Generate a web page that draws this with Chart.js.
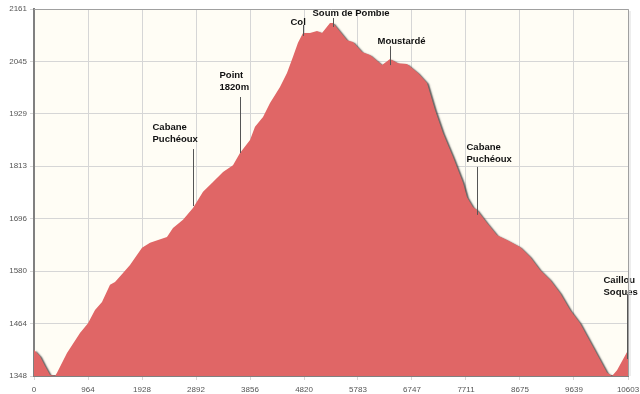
<!DOCTYPE html>
<html>
<head>
<meta charset="utf-8">
<script src="https://cdn.jsdelivr.net/npm/chart.js@4.4.0/dist/chart.umd.min.js"></script>
<style>
  html, body { margin: 0; padding: 0; background: #ffffff; }
  #wrap { width: 640px; height: 394px; }
</style>
</head>
<body>
<div id="wrap"><canvas id="profil" width="640" height="394"></canvas></div>
<script>
// profil altimetrique : distance (m) / altitude (m)
const distances = [0, 107, 196, 286, 375, 411, 589, 821, 964, 1089, 1214, 1357, 1446, 1589, 1714,
    1928, 2071, 2374, 2481, 2660, 2838, 3017, 3195, 3374, 3552, 3677, 3856, 3945, 4088, 4213,
    4391, 4516, 4623, 4712, 4802, 4927, 5052, 5141, 5284, 5337, 5587, 5694, 5855, 5998, 6212,
    6355, 6497, 6658, 6854, 7015, 7158, 7301, 7479, 7658, 7729, 7836, 7908, 8086, 8265, 8443,
    8675, 8854, 9032, 9211, 9390, 9569, 9747, 9979, 10229, 10318, 10407, 10586, 10603];
const altitudes = [1406, 1392, 1370, 1350, 1348, 1355, 1399, 1443, 1465, 1494, 1512, 1550, 1556, 1576, 1594,
    1632, 1643, 1656, 1676, 1694, 1720, 1756, 1778, 1800, 1815, 1842, 1871, 1900, 1922, 1953,
    1988, 2019, 2055, 2086, 2108, 2108, 2112, 2108, 2130, 2130, 2092, 2088, 2066, 2059, 2037,
    2050, 2041, 2039, 2019, 1997, 1937, 1886, 1833, 1776, 1744, 1722, 1716, 1687, 1660, 1649,
    1634, 1612, 1583, 1561, 1532, 1494, 1465, 1412, 1355, 1348, 1361, 1401, 1406];

const xTicks = [0, 964, 1928, 2892, 3856, 4820, 5783, 6747, 7711, 8675, 9639, 10603];
const yTicks = [1348, 1464, 1580, 1696, 1813, 1929, 2045, 2161];

// reperes sur le parcours
const markerLabels = [['Cabane', 'Puchéoux'], ['Point', '1820m'], ['Col'], ['Soum de Pombie'],
    ['Moustardé'], ['Cabane', 'Puchéoux'], ['Caillou', 'Soques']];
const markerDist = [2838, 3677, 4802, 5337, 6355, 7908, 10586];
const markerElev = [1720, 1842, 2108, 2130, 2050, 1716, 1401];

// placement des etiquettes (px)
const markerLayout = [
    {gap: -2, len: 57, dx: -41, tgap: 10},
    {gap: 0, len: 56, dx: -21, tgap: 10},
    {gap: 3, len: 11, dx: -13, tgap: 3},
    {gap: 4, len: 9, dx: -21, tgap: 5},
    {gap: 6, len: 19, dx: -13, tgap: 5},
    {gap: 5, len: 48, dx: -11, tgap: 8},
    {gap: 7, len: 65, dx: -24, tgap: 2}
];

const fond = {
    id: 'fond',
    beforeDraw(chart) {
        const a = chart.chartArea, c = chart.ctx;
        c.save();
        c.fillStyle = '#fffdf5';
        c.fillRect(a.left, a.top, a.right - a.left, a.bottom - a.top);
        c.restore();
    },
    afterDraw(chart) {
        const a = chart.chartArea, c = chart.ctx;
        c.save();
        c.strokeStyle = '#a0a0a0';
        c.lineWidth = 1;
        c.beginPath();
        c.moveTo(a.left, a.top + 0.5);
        c.lineTo(a.right + 0.5, a.top + 0.5);
        c.lineTo(a.right + 0.5, a.bottom);
        c.stroke();
        c.strokeStyle = '#dcdcdc';
        c.beginPath();
        c.moveTo(a.right + 2, a.top + 2);
        c.lineTo(a.right + 2, a.bottom);
        c.stroke();
        c.restore();
    }
};

const ombre = {
    id: 'ombre',
    beforeDatasetsDraw(chart) {
        const c = chart.ctx;
        c.save();
        c.shadowColor = 'rgba(55,55,55,0.8)';
        c.shadowOffsetX = 2;
        c.shadowOffsetY = 1;
        c.shadowBlur = 1.5;
    },
    afterDatasetsDraw(chart) {
        chart.ctx.restore();
    }
};

const reperes = {
    id: 'reperes',
    afterDatasetsDraw(chart) {
        const c = chart.ctx, xs = chart.scales.x, ys = chart.scales.y;
        c.save();
        c.font = 'bold 9.5px "Liberation Sans", Arial, sans-serif';
        c.textBaseline = 'middle';
        c.textAlign = 'left';
        markerLabels.forEach(function (lines, i) {
            const l = markerLayout[i];
            const x = Math.round(xs.getPixelForValue(markerDist[i])) + 0.5;
            const bottom = ys.getPixelForValue(markerElev[i]) + l.gap;
            const top = bottom - l.len;
            c.strokeStyle = '#555555';
            c.lineWidth = 1;
            c.beginPath();
            c.moveTo(x, bottom);
            c.lineTo(x, top);
            c.stroke();
            c.fillStyle = '#111111';
            const last = top - l.tgap;
            lines.forEach(function (t, j) {
                c.fillText(t, x + l.dx, last - (lines.length - 1 - j) * 12);
            });
        });
        c.restore();
    }
};

new Chart(document.getElementById("profil"), {
    type: 'line',
    data: {
        datasets: [{
            data: distances.map((d, i) => ({x: d, y: altitudes[i]})),
            backgroundColor: '#e06666',
            borderColor: '#e06666',
            borderWidth: 0,
            pointRadius: 0,
            tension: 0,
            fill: 'start'
        }]
    },
    options: {
        responsive: false,
        animation: false,
        layout: {padding: {top: 9, right: 12, left: 0, bottom: 0}},
        plugins: {
            legend: {display: false},
            tooltip: {enabled: false}
        },
        scales: {
            x: {
                type: 'linear',
                min: 0,
                max: 10603,
                afterBuildTicks: s => { s.ticks = xTicks.map(v => ({value: v})); },
                afterFit: s => { s.height = 18; s.paddingLeft = 0; s.paddingRight = 0; },
                ticks: {
                    callback: v => String(v),
                    color: '#555555',
                    font: {size: 8, family: '"Liberation Sans", Arial, sans-serif'},
                    padding: 5,
                    maxRotation: 0,
                    autoSkip: false
                },
                grid: {color: '#d6d6d6', tickLength: 4},
                border: {color: '#808080', width: 2}
            },
            y: {
                min: 1348,
                max: 2161,
                afterBuildTicks: s => { s.ticks = yTicks.map(v => ({value: v})); },
                afterFit: s => { s.width = 34; s.paddingTop = 0; s.paddingBottom = 0; },
                ticks: {
                    callback: v => String(v),
                    color: '#555555',
                    font: {size: 8, family: '"Liberation Sans", Arial, sans-serif'},
                    padding: 3,
                    autoSkip: false
                },
                grid: {color: '#d6d6d6', tickLength: 4},
                border: {color: '#808080', width: 2}
            }
        }
    },
    plugins: [fond, ombre, reperes]
});
</script>
</body>
</html>
